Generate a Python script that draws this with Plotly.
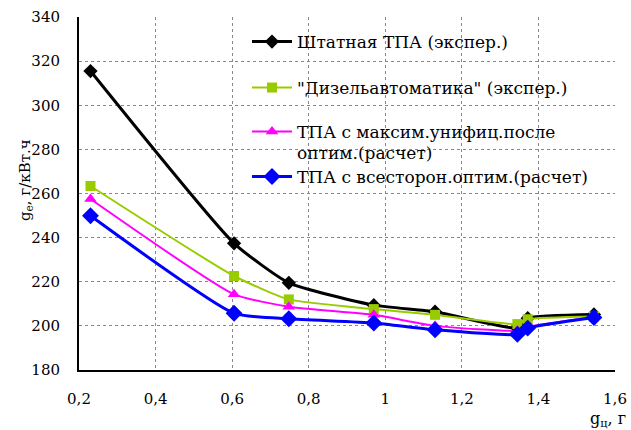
import plotly.graph_objects as go

# Cycle fuel feed, g
x_std = [0.23, 0.605, 0.748, 0.97, 1.13, 1.345, 1.372, 1.545]
x_dz = [0.23, 0.605, 0.748, 0.97, 1.13, 1.345, 1.372, 1.545]
x_max = [0.23, 0.605, 0.748, 0.97, 1.13, 1.345, 1.372, 1.545]
x_all = [0.23, 0.605, 0.748, 0.97, 1.13, 1.345, 1.372, 1.545]

# Specific fuel consumption, g/kWh
g_std = [315.5, 237.4, 219.5, 209.4, 206.4, 199.0, 203.5, 205.2]
g_dz = [263.4, 222.6, 212.0, 207.6, 205.0, 200.8, 203.0, 204.2]
g_max = [257.5, 214.3, 208.7, 205.0, 200.0, 197.8, 199.5, 204.0]
g_all = [249.9, 205.7, 203.2, 201.3, 198.2, 196.2, 199.0, 203.8]

names = [
    "Штатная ТПА (экспер.)",
    "\"Дизельавтоматика\" (экспер.)",
    "ТПА с максим.унифиц.после",
    "ТПА с всесторон.оптим.(расчет)",
]
name3_cont = "оптим.(расчет)"

x_ticks = [0.2, 0.4, 0.6, 0.8, 1.0, 1.2, 1.4, 1.6]
x_ticklabels = ["0,2", "0,4", "0,6", "0,8", "1", "1,2", "1,4", "1,6"]
y_ticks = [180, 200, 220, 240, 260, 280, 300, 320, 340]

FONT = "DejaVu Serif"
FS = 15
FS_LEG = 17

series = [
    (x_std, g_std, names[0], "#000000", "diamond", 11, 3),
    (x_dz, g_dz, names[1], "#99cc00", "square", 10, 2),
    (x_max, g_max, names[2], "#ff00ff", "triangle-up", 11, 2),
    (x_all, g_all, names[3], "#0000ff", "diamond", 13, 3),
]

# vertical centre of each legend row, in pixels from the top of the page
legend_rows = [42, 88, 132, 177]
H, T, L, PH, PW = 430, 17, 79, 353, 536

fig = go.Figure()
for i, (xs, ys, nm, col, sym, ms, lw) in enumerate(series):
    key = "legend" if i == 0 else f"legend{i + 1}"
    fig.add_trace(go.Scatter(
        x=xs, y=ys, name=nm, mode="lines+markers",
        line=dict(color=col, width=lw, shape="spline", smoothing=0.5),
        marker=dict(symbol=sym, size=ms, color=col),
        legend=key,
    ))
    fig.update_layout({key: dict(
        x=(247 - L) / PW, y=1 - (legend_rows[i] - T) / PH,
        xanchor="left", yanchor="middle",
        bgcolor="rgba(0,0,0,0)", borderwidth=0,
        font=dict(family=FONT, size=FS_LEG, color="black"),
        itemwidth=40,
    )})

# white panel behind the legend, hiding the grid there
fig.add_shape(type="rect", xref="paper", yref="paper", layer="between",
              x0=0.30, x1=0.975, y0=0.45, y1=1.0,
              fillcolor="white", line=dict(width=0))

fig.update_layout(
    width=631, height=430,
    margin=dict(l=L, r=16, t=T, b=60),
    paper_bgcolor="white", plot_bgcolor="white",
    font=dict(family=FONT, size=FS, color="black"),
    showlegend=True,
    xaxis=dict(
        range=[0.2, 1.6], tickvals=x_ticks, ticktext=x_ticklabels,
        showgrid=True, gridcolor="#888888", griddash="dot", gridwidth=1,
        showline=True, linecolor="black", linewidth=2,
        ticks="", zeroline=False, ticklabelstandoff=14, automargin=False,
        tickfont=dict(family=FONT, size=FS),
    ),
    yaxis=dict(
        range=[180, 340], tickvals=y_ticks,
        showgrid=True, gridcolor="#888888", griddash="dot", gridwidth=1,
        showline=True, linecolor="black", linewidth=2,
        ticks="", zeroline=False, ticklabelstandoff=14, automargin=False,
        tickfont=dict(family=FONT, size=FS),
    ),
    annotations=[
        dict(text=name3_cont, xref="paper", yref="paper",
             x=(295 - L) / PW, y=1 - (153 - T) / PH,
             xanchor="left", yanchor="middle", showarrow=False,
             font=dict(family=FONT, size=FS_LEG)),
        dict(text="g<sub>e</sub>, г/кВт.ч", xref="paper", yref="paper",
             x=(25 - L) / PW, y=1 - (180 - T) / PH, textangle=-90,
             xanchor="center", yanchor="middle", showarrow=False,
             font=dict(family=FONT, size=15)),
        dict(text="g<sub>ц</sub>, г", xref="paper", yref="paper",
             x=1.024, y=-0.175, xanchor="right", yanchor="bottom", showarrow=False,
             font=dict(family=FONT, size=16)),
    ],
)

fig.write_html("out.html")
